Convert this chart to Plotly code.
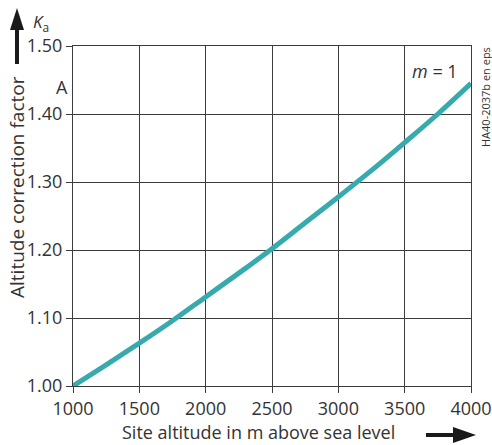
import plotly.graph_objects as go

altitude = [1000, 1250, 1500, 1750, 2000, 2250, 2500, 2750, 3000, 3250, 3500, 3750, 4000]
ka = [1.000, 1.031, 1.063, 1.096, 1.131, 1.166, 1.202, 1.240, 1.278, 1.317, 1.358, 1.400, 1.445]

x_ticks = [1000, 1500, 2000, 2500, 3000, 3500, 4000]
y_ticks = [1.00, 1.10, 1.20, 1.30, 1.40, 1.50]

teal = "#36aaad"
ink = "#333333"
grid = "#3c3c3c"
font = "Open Sans"

L, R, T, B = 73, 21, 46, 59
W, H = 492, 445
pw, ph = W - L - R, H - T - B


def px(x):
    return (x - L) / pw


def py(y):
    return (H - B - y) / ph


fig = go.Figure()
fig.add_trace(go.Scatter(x=altitude, y=ka, mode="lines",
                         line=dict(color=teal, width=5, shape="spline"),
                         hoverinfo="skip", showlegend=False))

axis_style = dict(showgrid=True, gridcolor=grid, gridwidth=1,
                  showline=True, linecolor=grid, linewidth=1, mirror=True,
                  ticks="outside", ticklen=6, tickcolor=grid,
                  tickfont=dict(family=font, size=18, color=ink),
                  zeroline=False, automargin=False)
fig.update_xaxes(range=[1000, 4000], tickvals=x_ticks,
                 ticktext=[str(v) for v in x_ticks], **axis_style)
fig.update_yaxes(range=[1.0, 1.5], tickvals=y_ticks,
                 ticktext=["%.2f" % v for v in y_ticks], **axis_style)

shapes = [
    # up arrow next to Ka
    dict(type="line", xref="paper", yref="paper", x0=px(17), x1=px(17), y0=py(64), y1=py(28),
         line=dict(color="#1a1a1a", width=4)),
    dict(type="path", xref="paper", yref="paper",
         path="M %f %f L %f %f L %f %f Z" % (px(10), py(30), px(24), py(30), px(17), py(8)),
         fillcolor="#1a1a1a", line=dict(width=0)),
    # right arrow after x title
    dict(type="line", xref="paper", yref="paper", x0=px(426), x1=px(456), y0=py(435), y1=py(435),
         line=dict(color="#1a1a1a", width=4)),
    dict(type="path", xref="paper", yref="paper",
         path="M %f %f L %f %f L %f %f Z" % (px(453), py(427), px(453), py(443), px(476), py(435)),
         fillcolor="#1a1a1a", line=dict(width=0)),
]

annotations = [
    dict(text="Site altitude in m above sea level", x=px(258), y=py(432),
         xref="paper", yref="paper", xanchor="center", yanchor="middle", showarrow=False,
         font=dict(family=font, size=18, color=ink)),
    dict(text="Altitude correction factor", x=px(17), y=py(187), textangle=-90,
         xref="paper", yref="paper", xanchor="center", yanchor="middle", showarrow=False,
         font=dict(family=font, size=19, color=ink)),
    dict(text="<i>K</i><sub>a</sub>", x=px(31), y=py(22), xref="paper", yref="paper",
         xanchor="left", yanchor="middle", showarrow=False,
         font=dict(family=font, size=17, color=ink)),
    dict(text="A", x=px(62), y=py(87), xref="paper", yref="paper",
         xanchor="center", yanchor="middle", showarrow=False,
         font=dict(family=font, size=18, color=ink)),
    dict(text="<i>m</i> = 1", x=px(460), y=py(71), xref="paper", yref="paper",
         xanchor="right", yanchor="middle", showarrow=False,
         font=dict(family=font, size=18, color=ink)),
    dict(text="HA40-2037b en eps", x=px(485), y=py(97), xref="paper", yref="paper",
         xanchor="center", yanchor="middle", showarrow=False, textangle=-90,
         font=dict(family=font, size=11, color=ink)),
]

fig.update_layout(width=W, height=H, margin=dict(l=L, r=R, t=T, b=B, autoexpand=False),
                  plot_bgcolor="white", paper_bgcolor="white",
                  shapes=shapes, annotations=annotations)

# drop the browser's default body margin so the figure sits at the page corner
fig.write_html("out.html", config={"displayModeBar": False},
               post_script="document.body.style.margin='0px';")
